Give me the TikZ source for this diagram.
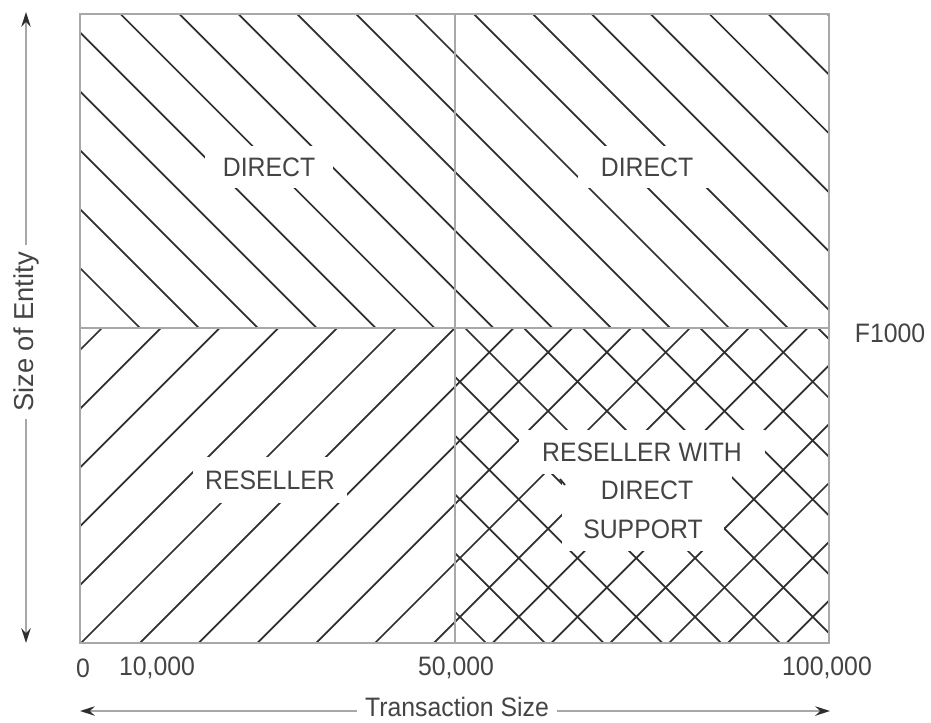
\documentclass[tikz,border=0pt]{standalone}
\usepackage{fontspec}
\setmainfont[FakeStretch=0.93]{Liberation Sans}
\newfontfamily\axisfont{Liberation Sans}
\usetikzlibrary{arrows.meta}
\definecolor{hatchc}{HTML}{2E2E2E}
\definecolor{framec}{HTML}{A8A8A8}
\definecolor{txtc}{HTML}{444444}
\tikzset{
  hatchline/.style={draw=hatchc, line width=1.3pt},
  frameline/.style={draw=framec, line width=2.2pt},
  lbl/.style={text=txtc, font=\fontsize{20}{27.75}\selectfont, inner sep=0pt},
  axlbl/.style={text=txtc, font=\axisfont\fontsize{20.5}{24}\selectfont, inner sep=0pt},
  gap/.style={lbl, fill=white},
  axisline/.style={draw=framec, line width=1.4pt, -{Stealth[length=11pt,width=7pt,color=hatchc]}},
}
\begin{document}
\begin{tikzpicture}[x=0.75pt,y=-0.75pt]
\useasboundingbox (0,0) rectangle (931,722);

% hatching, top half (both quadrants)
\begin{scope}
  \clip (80,14) rectangle (829,328);
  \foreach \k in {-6,...,12} {
    \pgfmathsetmacro\hc{106.5+58.9*\k}
    \draw[hatchline] (\hc,0) -- ({\hc+700},700);
  }
\end{scope}
% hatching, bottom left
\begin{scope}
  \clip (80,328) rectangle (455,643);
  \foreach \k in {0,...,12} {
    \pgfmathsetmacro\hc{430+58.8*\k}
    \draw[hatchline] (\hc,0) -- ({\hc-700},700);
  }
\end{scope}
% cross hatching, bottom right
\begin{scope}
  \clip (455,328) rectangle (829,643);
  \foreach \k in {6,...,18} {
    \pgfmathsetmacro\hc{430+58.8*\k}
    \draw[hatchline] (\hc,0) -- ({\hc-700},700);
  }
  \foreach \k in {-6,...,7} {
    \pgfmathsetmacro\hc{137+58.8*\k}
    \draw[hatchline] (\hc,0) -- ({\hc+700},700);
  }
\end{scope}

% labels with white gaps
\node[gap, minimum width=96pt, minimum height=31pt] (dtl) at (269,167) {DIRECT};
\node[gap, minimum width=103pt, minimum height=31pt] (dtr) at (647,167) {DIRECT};
\node[gap, minimum width=115pt, minimum height=34pt] (rbl) at (270,480) {RESELLER};
\node[gap, minimum width=184pt, minimum height=33pt] (rw1) at (642,452) {RESELLER WITH};
\node[gap, minimum width=128pt, minimum height=30pt] (rw2) at (647,490) {DIRECT};
\node[gap, minimum width=121pt, minimum height=33pt] (rw3) at (643,529) {SUPPORT};
\coordinate (stubA) at (560,479);
\coordinate (stubB) at (565,485);
\draw[hatchline] (stubA) -- (stubB);

% frame
\coordinate (tl) at (80,14);
\coordinate (br) at (829,643);
\coordinate (mt) at (455,14);
\coordinate (mb) at (455,643);
\coordinate (ml) at (80,328);
\coordinate (mr) at (829,328);
\draw[frameline] (tl) rectangle (br);
\draw[frameline] (mt) -- (mb);
\draw[frameline] (ml) -- (mr);

% side labels
\node[lbl] (f1000) at (890,333) {F1000};
\node[lbl] (n0) at (83,668) {0};
\node[lbl] (n10) at (157,668) {10,000};
\node[lbl] (n50) at (456,668) {50,000};
\node[lbl] (n100) at (827,668) {100,000};

% axes
\node[lbl, inner xsep=6pt] (xlab) at (457,707) {Transaction Size};
\coordinate (xtipL) at (80,711);
\coordinate (xtipR) at (830,711);
\draw[axisline] (xlab.west |- xtipL) -- (xtipL);
\draw[axisline] (xlab.east |- xtipR) -- (xtipR);

\node[axlbl, rotate=90, inner xsep=5pt] (ylab) at (26,332) {Size of Entity};
\coordinate (ytipT) at (26,12);
\coordinate (ytipB) at (26,643);
\draw[axisline] (ylab.east) -- (ytipT);
\draw[axisline] (ylab.west) -- (ytipB);
\end{tikzpicture}
\end{document}
